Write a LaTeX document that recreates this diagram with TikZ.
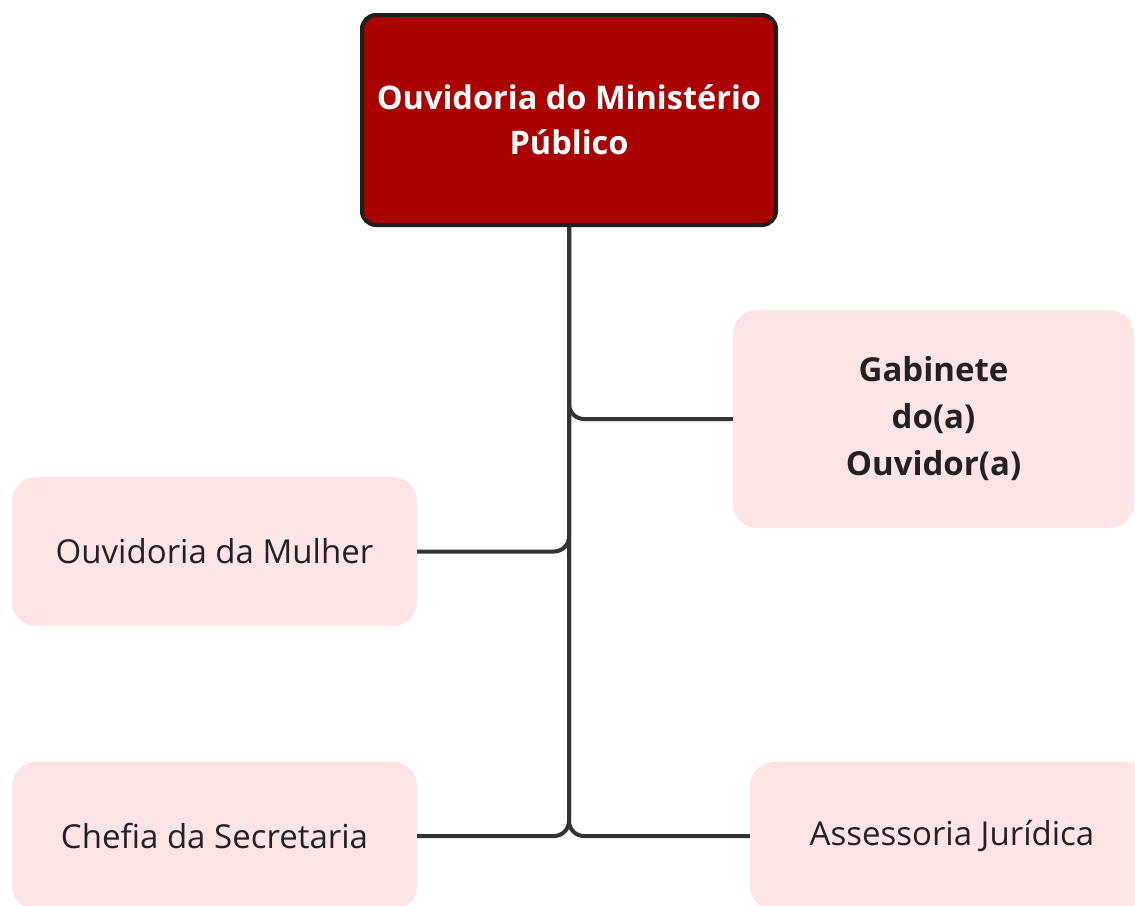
\documentclass[tikz,border=0pt]{standalone}
\usepackage{fontspec}
\setmainfont{Open Sans}
\definecolor{topred}{HTML}{AA0000}
\definecolor{topborder}{HTML}{1E1E1E}
\definecolor{pinkbox}{HTML}{FDE5E5}
\definecolor{connline}{HTML}{333333}
\definecolor{txt}{HTML}{222222}
\tikzset{
  topbox/.style={draw=topborder, line width=4pt, fill=topred, rounded corners=14pt,
    minimum width=414pt, minimum height=210pt, inner sep=0pt, align=center,
    text=white, font=\fontsize{32.5}{45}\selectfont\bfseries},
  subbox/.style={fill=pinkbox, rounded corners=24pt, inner sep=0pt, align=center,
    text=txt, font=\fontsize{33}{46}\selectfont},
  conn/.style={draw=connline, line width=4pt, rounded corners=15pt}
}
\begin{document}
\begin{tikzpicture}[x=1pt,y=-1pt]
\clip (0,0) rectangle (1135,905);
\fill[white] (0,0) rectangle (1135,905);
\node[topbox] (top) at (569,120) {Ouvidoria do Ministério\\Público};
\node[subbox, minimum width=401pt, minimum height=218pt, font=\fontsize{33}{47}\selectfont\bfseries] (gab) at (933.5,419) {Gabinete\\do(a)\\Ouvidor(a)};
\node[subbox, minimum width=405pt, minimum height=149pt] (mul) at (214.5,551.5) {Ouvidoria da Mulher};
\node[subbox, minimum width=405pt, minimum height=148pt] (chef) at (214.5,836) {Chefia da Secretaria};
\node[subbox, minimum width=404pt, minimum height=148pt] (ass) at (952,836) {Assessoria Jurídica};
\draw[conn] (top.south) |- (gab.west);
\draw[conn] (top.south) |- (mul.east);
\draw[conn] (top.south) |- (chef.east);
\draw[conn] (top.south) |- (ass.west);
\end{tikzpicture}
\end{document}
